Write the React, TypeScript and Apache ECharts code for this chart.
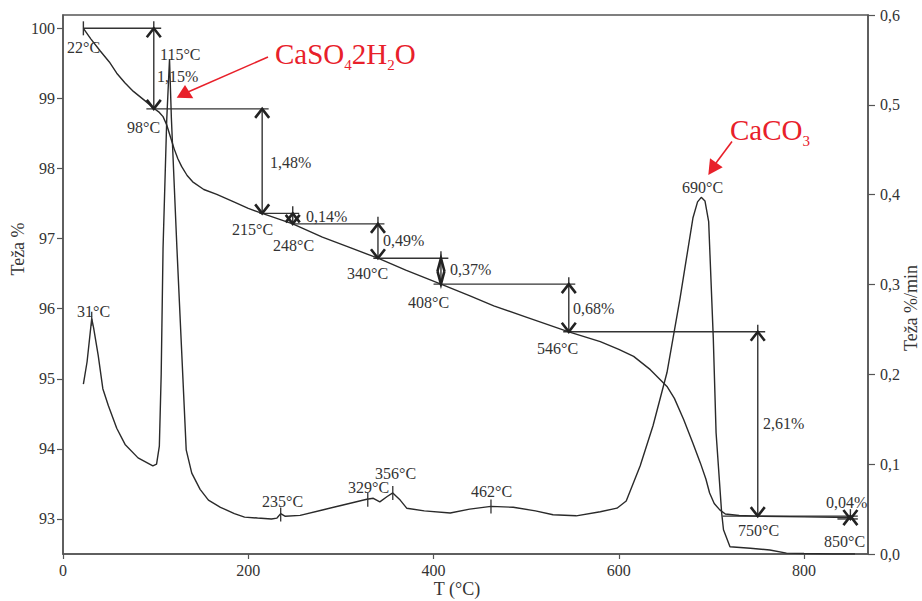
import React, { useEffect, useRef } from 'react';
import * as echarts from 'echarts';

// TG curve: temperature (°C) and mass (%)
const tgT = [22, 30, 40, 50, 58, 67, 76, 90, 98, 104, 108, 112, 116, 120, 124, 128, 134, 140, 152, 166, 185, 200, 215, 248, 280, 310, 340, 370, 408, 440, 465, 500, 546, 580, 600, 616, 634, 652, 660, 670, 680, 688, 694, 698, 703, 709, 715, 730, 750, 800, 850];
const tgW = [100.0, 99.85, 99.68, 99.52, 99.36, 99.22, 99.1, 98.95, 98.86, 98.8, 98.74, 98.62, 98.45, 98.28, 98.14, 98.03, 97.9, 97.81, 97.7, 97.63, 97.52, 97.43, 97.36, 97.21, 97.02, 96.87, 96.72, 96.55, 96.35, 96.18, 96.04, 95.88, 95.67, 95.53, 95.42, 95.32, 95.13, 94.89, 94.72, 94.42, 94.08, 93.8, 93.57, 93.37, 93.22, 93.13, 93.07, 93.05, 93.04, 93.03, 93.02];

// DTG curve: temperature (°C) and rate (%/min)
const dtgT = [22, 26, 31, 33, 38, 43, 49, 58, 67, 81, 97, 101, 104, 106, 108, 112, 115, 117, 123, 128, 133, 139, 148, 157, 170, 185, 196, 210, 225, 231, 235, 240, 256, 280, 300, 328, 335, 342, 350, 356, 364, 371, 390, 418, 439, 462, 486, 510, 529, 554, 580, 598, 608, 623, 637, 652, 666, 673, 680, 685, 689, 693, 697, 702, 705, 711, 713, 720, 742, 763, 781, 800, 831, 855];
const dtgV = [0.189, 0.214, 0.262, 0.252, 0.221, 0.184, 0.165, 0.14, 0.122, 0.107, 0.098, 0.1, 0.12, 0.2, 0.34, 0.484, 0.551, 0.485, 0.34, 0.228, 0.116, 0.09, 0.072, 0.06, 0.052, 0.045, 0.041, 0.04, 0.039, 0.04, 0.045, 0.042, 0.043, 0.049, 0.054, 0.061, 0.062, 0.058, 0.064, 0.068, 0.06, 0.051, 0.048, 0.0456, 0.05, 0.053, 0.052, 0.048, 0.0437, 0.0425, 0.047, 0.051, 0.059, 0.098, 0.143, 0.202, 0.284, 0.329, 0.374, 0.392, 0.397, 0.393, 0.37, 0.24, 0.135, 0.046, 0.027, 0.008, 0.0064, 0.0045, 0.001, 0.0005, 0, 0];

const xTicks = [0, 200, 400, 600, 800];
const leftTicks = [93, 94, 95, 96, 97, 98, 99, 100];

// Step guide lines on TG: [T from, T to, mass %]
const guideLines = [
  [22, 106, 100],
  [90, 222, 98.85],
  [212, 255, 97.36],
  [248, 347, 97.21],
  [335, 416, 96.72],
  [400, 553, 96.35],
  [540, 758, 95.67],
  [712, 858, 93.04],
  [836, 858, 93.0],
];

// Mass-loss arrows: [T, upper mass %, lower mass %]
const stepArrows = [
  [98, 100, 98.85],
  [215, 98.85, 97.36],
  [248, 97.36, 97.21],
  [340, 97.21, 96.72],
  [408, 96.72, 96.35],
  [546, 96.35, 95.67],
  [750, 95.67, 93.04],
  [850, 93.04, 93.0],
];

const tgMarks = [[22, 100]];
const dtgMarks = [[31, 0.262], [235, 0.044], [329, 0.0605], [356, 0.068], [462, 0.053]];

const labelTexts = ['22°C', '115°C', '1,15%', '98°C', '1,48%', '215°C', '248°C', '0,14%', '0,49%', '340°C', '0,37%', '408°C', '0,68%', '546°C', '690°C', '2,61%', '0,04%', '750°C', '850°C', '31°C', '235°C', '329°C', '356°C', '462°C'];
const labelLayout = [
  [67, 47], [160, 54], [157, 76], [127, 127], [270, 162], [232, 229], [273, 245], [306, 216],
  [383, 240], [347, 273], [450, 269], [408, 302], [573, 308], [537, 348], [682, 187], [763, 423],
  [826, 502], [738, 530], [824, 541], [77, 311], [262, 501], [348, 487], [375, 473], [471, 491],
];

const FONT = "'Liberation Serif', 'Times New Roman', serif";
const INK = '#2a2a2a';
const AXIS = '#555';
const RED = '#e8202a';

export default function App() {
  const ref = useRef<HTMLDivElement>(null);
  useEffect(() => {
    if (!ref.current) return;
    const chart = echarts.init(ref.current, undefined, { renderer: 'svg' });

    const labelEls = labelTexts.map((t, i) => ({
      type: 'text',
      x: labelLayout[i][0],
      y: labelLayout[i][1],
      silent: true,
      z: 50,
      style: {
        text: t,
        fill: '#333',
        fontSize: 16,
        fontFamily: FONT,
        align: 'left',
        verticalAlign: 'middle',
        textAlign: 'left',
        textVerticalAlign: 'middle',
      },
    }));

    const richMain = { fontSize: 29, fontFamily: FONT, fill: RED, color: RED, lineHeight: 36 };
    const richSub = { fontSize: 15, fontFamily: FONT, fill: RED, color: RED, lineHeight: 15, padding: [21, 0, 0, 0] };

    const option: any = {
      animation: false,
      backgroundColor: '#fff',
      grid: { left: 63, right: 54, top: 15, bottom: 47, show: true, borderColor: AXIS, borderWidth: 1.5, containLabel: false },
      xAxis: {
        type: 'value',
        min: 0,
        max: 869,
        interval: 200,
        axisLine: { show: true, lineStyle: { color: AXIS, width: 1.5 } },
        axisTick: { show: true, length: 5, customValues: xTicks, lineStyle: { color: AXIS, width: 1.2 } },
        axisLabel: { color: '#333', fontSize: 16, fontFamily: FONT, margin: 8, customValues: xTicks },
        splitLine: { show: false },
      },
      yAxis: [
        {
          type: 'value',
          min: 92.5,
          max: 100.19,
          position: 'left',
          axisLine: { show: true, lineStyle: { color: AXIS, width: 1.5 } },
          axisTick: { show: true, length: 6, customValues: leftTicks, lineStyle: { color: AXIS, width: 1.2 } },
          axisLabel: { color: '#333', fontSize: 16, fontFamily: FONT, margin: 8, customValues: leftTicks, formatter: (v: number) => String(Math.round(v)) },
          splitLine: { show: false },
        },
        {
          type: 'value',
          min: 0,
          max: 0.6,
          interval: 0.1,
          position: 'right',
          axisLine: { show: true, lineStyle: { color: AXIS, width: 1.5 } },
          axisTick: { show: true, length: 7, lineStyle: { color: AXIS, width: 1.2 } },
          axisLabel: { color: '#333', fontSize: 16, fontFamily: FONT, margin: 12, formatter: (v: number) => v.toFixed(1).replace('.', ',') },
          splitLine: { show: false },
        },
      ],
      series: [
        {
          type: 'line',
          name: 'TG',
          yAxisIndex: 0,
          data: tgT.map((t, i) => [t, tgW[i]]),
          symbol: 'none',
          lineStyle: { color: INK, width: 1.4 },
          silent: true,
          z: 5,
        },
        {
          type: 'line',
          name: 'DTG',
          yAxisIndex: 1,
          data: dtgT.map((t, i) => [t, dtgV[i]]),
          symbol: 'none',
          lineStyle: { color: INK, width: 1.4 },
          silent: true,
          z: 5,
        },
        {
          type: 'custom',
          name: 'guides',
          yAxisIndex: 0,
          silent: true,
          data: guideLines.map((g) => [g[0], g[2], g[1]]),
          renderItem: (params: any, api: any) => {
            const g = guideLines[params.dataIndex];
            const p1 = api.coord([g[0], g[2]]);
            const p2 = api.coord([g[1], g[2]]);
            return { type: 'line', shape: { x1: p1[0], y1: p1[1], x2: p2[0], y2: p2[1] }, style: { stroke: '#333', lineWidth: 1.4 } };
          },
          z: 4,
        },
        {
          type: 'custom',
          name: 'arrows',
          yAxisIndex: 0,
          silent: true,
          data: stepArrows.map((a) => [a[0], a[1], a[2]]),
          renderItem: (params: any, api: any) => {
            const a = stepArrows[params.dataIndex];
            const pT = api.coord([a[0], a[1]]);
            const pB = api.coord([a[0], a[2]]);
            const narrow = a[0] === 408;
            const hw = narrow ? 3.5 : 7;
            const hh = narrow ? 13 : 9;
            const ext = a[0] === 215 ? 0 : 7;
            const x = pT[0];
            const head = { stroke: '#222', lineWidth: 2.6, fill: null };
            return {
              type: 'group',
              children: [
                { type: 'line', shape: { x1: x, y1: pT[1] - ext, x2: x, y2: pB[1] }, style: { stroke: '#333', lineWidth: 1.4 } },
                { type: 'polyline', shape: { points: [[x - hw, pT[1] + hh], [x, pT[1]], [x + hw, pT[1] + hh]] }, style: head },
                { type: 'polyline', shape: { points: [[x - hw, pB[1] - hh], [x, pB[1]], [x + hw, pB[1] - hh]] }, style: head },
              ],
            };
          },
          z: 6,
        },
        {
          type: 'custom',
          name: 'tgMarks',
          yAxisIndex: 0,
          silent: true,
          data: tgMarks,
          renderItem: (params: any, api: any) => {
            const m = tgMarks[params.dataIndex];
            const p = api.coord([m[0], m[1]]);
            return { type: 'line', shape: { x1: p[0], y1: p[1] - 7, x2: p[0], y2: p[1] + 7 }, style: { stroke: '#333', lineWidth: 1.4 } };
          },
          z: 6,
        },
        {
          type: 'custom',
          name: 'dtgMarks',
          yAxisIndex: 1,
          silent: true,
          data: dtgMarks,
          renderItem: (params: any, api: any) => {
            const m = dtgMarks[params.dataIndex];
            const p = api.coord([m[0], m[1]]);
            return { type: 'line', shape: { x1: p[0], y1: p[1] - 7, x2: p[0], y2: p[1] + 7 }, style: { stroke: '#333', lineWidth: 1.3 } };
          },
          z: 6,
        },
      ],
      graphic: [
        ...labelEls,
        {
          type: 'text', x: 18, y: 249, rotation: Math.PI / 2, silent: true,
          style: { text: 'Teža %', fill: '#333', fontSize: 18, fontFamily: FONT, align: 'center', verticalAlign: 'middle', textAlign: 'center', textVerticalAlign: 'middle' },
        },
        {
          type: 'text', x: 911, y: 308, rotation: Math.PI / 2, silent: true,
          style: { text: 'Teža %/min', fill: '#333', fontSize: 18, fontFamily: FONT, align: 'center', verticalAlign: 'middle', textAlign: 'center', textVerticalAlign: 'middle' },
        },
        {
          type: 'text', x: 457, y: 589, silent: true,
          style: { text: 'T (°C)', fill: '#333', fontSize: 18, fontFamily: FONT, align: 'center', verticalAlign: 'middle', textAlign: 'center', textVerticalAlign: 'middle' },
        },
        {
          type: 'text', x: 275, y: 54, silent: true, z: 60,
          style: {
            text: '{m|CaSO}{s|4}{m|2H}{s|2}{m|O}',
            align: 'left', verticalAlign: 'middle', textAlign: 'left', textVerticalAlign: 'middle',
            fill: RED,
            rich: { m: richMain, s: richSub },
          },
        },
        {
          type: 'text', x: 730, y: 130, silent: true, z: 60,
          style: {
            text: '{m|CaCO}{s|3}',
            align: 'left', verticalAlign: 'middle', textAlign: 'left', textVerticalAlign: 'middle',
            fill: RED,
            rich: { m: richMain, s: richSub },
          },
        },
        { type: 'line', silent: true, z: 60, shape: { x1: 268, y1: 57, x2: 188, y2: 92 }, style: { stroke: RED, lineWidth: 1.6 } },
        { type: 'polygon', silent: true, z: 60, shape: { points: [[176.7, 97.7], [185, 85], [193.3, 98.3]] }, style: { fill: RED } },
        { type: 'line', silent: true, z: 60, shape: { x1: 732, y1: 141.5, x2: 716, y2: 163 }, style: { stroke: RED, lineWidth: 1.6 } },
        { type: 'polygon', silent: true, z: 60, shape: { points: [[708.3, 175], [710, 158.3], [722.7, 167.3]] }, style: { fill: RED } },
      ],
    };
    chart.setOption(option);
    return () => chart.dispose();
  }, []);
  return <div ref={ref} style={{ position: 'fixed', left: 0, top: 0, width: 922, height: 601, background: '#fff' }} />;
}
